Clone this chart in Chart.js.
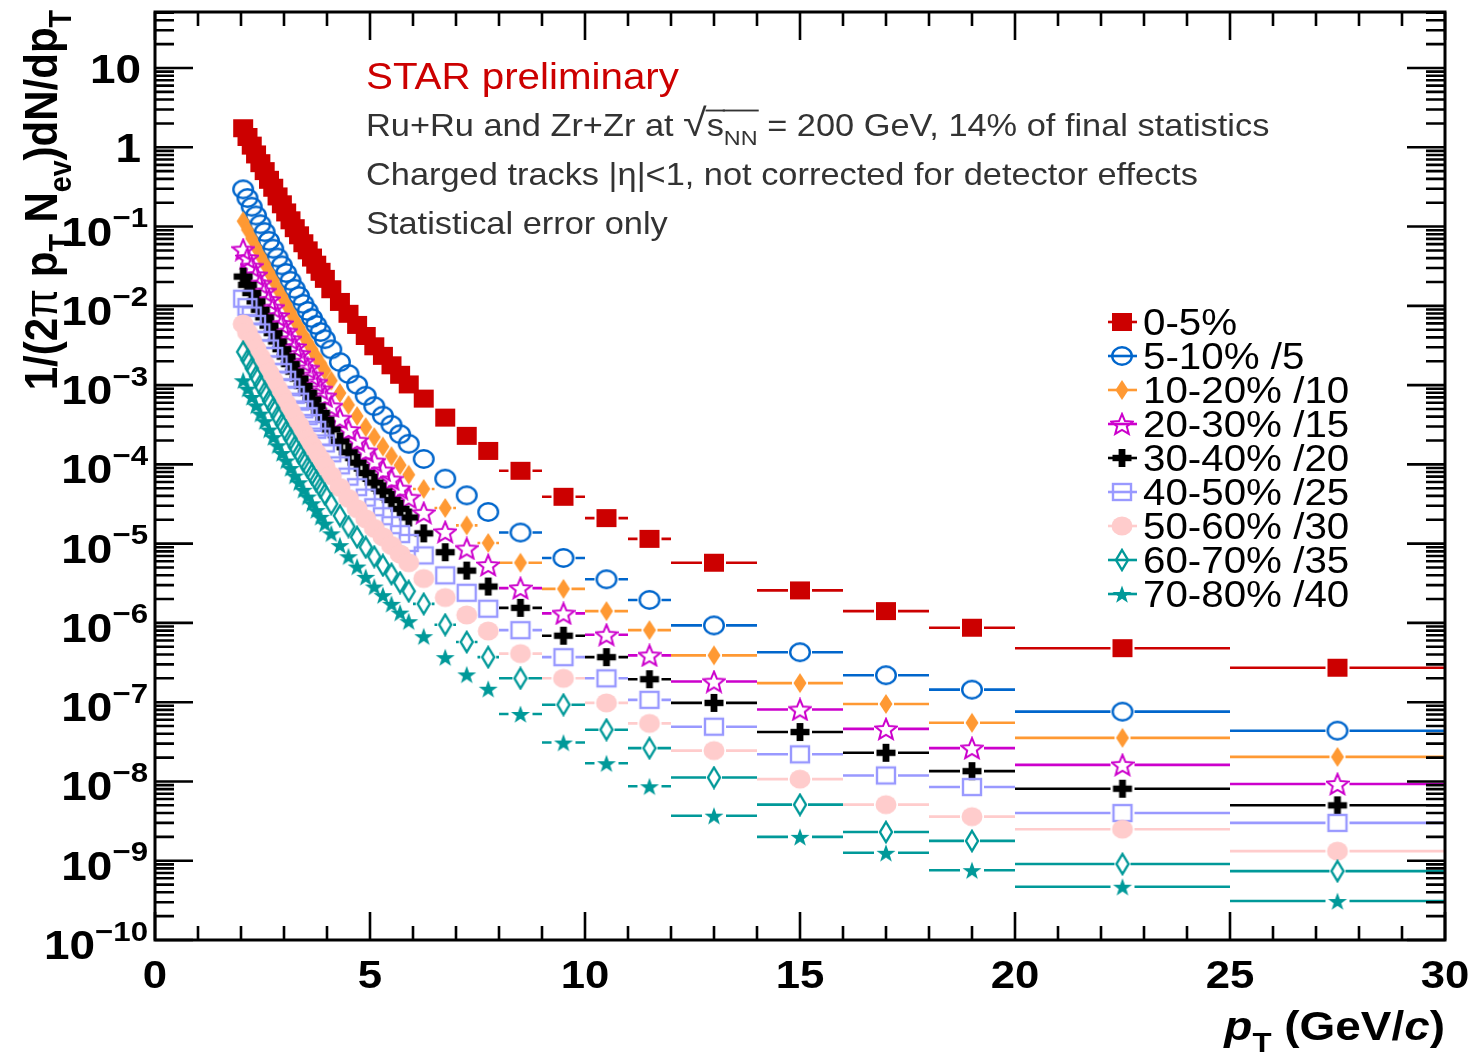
<!DOCTYPE html>
<html>
<head>
<meta charset="utf-8">
<script src="https://cdn.jsdelivr.net/npm/chart.js@4.4.0/dist/chart.umd.min.js"></script>
<style>
  html, body { margin: 0; padding: 0; background: #fff; }
</style>
</head>
<body>
<canvas id="spectra" width="1468" height="1062"></canvas>
<script>
// pT bin edges (GeV/c)
var binEdges = [2.0, 2.1, 2.2, 2.3, 2.4, 2.5, 2.6, 2.7, 2.8, 2.9, 3.0, 3.1, 3.2, 3.3, 3.4, 3.5, 3.6, 3.7, 3.8, 3.9, 4.0,
                4.2, 4.4, 4.6, 4.8, 5.0, 5.2, 5.4, 5.6, 5.8, 6.0,
                6.5, 7.0, 7.5, 8.0, 9.0, 10, 11, 12, 14, 16, 18, 20, 25, 30];

// yields per centrality class (already divided by the scale factor in the legend)
var cent0_5 = [1.74, 1.35, 1.05, 0.813, 0.631, 0.501, 0.389, 0.309, 0.240, 0.191,
               0.151, 0.120, 0.0955, 0.0776, 0.0617, 0.0501, 0.0407, 0.0331, 0.0269, 0.0219,
               0.0162, 0.0112, 7.94e-3, 5.75e-3, 4.17e-3, 3.09e-3, 2.34e-3, 1.78e-3, 1.35e-3, 1.02e-3,
               6.76e-4, 3.89e-4, 2.29e-4, 1.48e-4, 8.3e-5, 3.9e-5, 2.1e-5, 1.15e-5, 5.75e-6, 2.57e-6, 1.41e-6, 8.7e-7, 4.8e-7, 2.72e-7];
var cent5_10 = [0.295, 0.229, 0.178, 0.138, 0.107, 0.0851, 0.0661, 0.0525, 0.0407, 0.0324,
                0.0260, 0.0207, 0.0164, 0.0133, 0.0106, 8.61e-3, 7.00e-3, 5.75e-3, 4.68e-3, 3.80e-3,
                2.82e-3, 1.95e-3, 1.38e-3, 1.01e-3, 7.33e-4, 5.43e-4, 4.12e-4, 3.16e-4, 2.40e-4, 1.82e-4,
                1.17e-4, 6.6e-5, 4.07e-5, 2.51e-5, 1.38e-5, 6.6e-6, 3.55e-6, 1.95e-6, 9.3e-7, 4.27e-7, 2.19e-7, 1.44e-7, 7.6e-8, 4.37e-8];
var cent10_20 = [0.117, 0.0912, 0.0708, 0.0550, 0.0427, 0.0339, 0.0266, 0.0211, 0.0164, 0.0132,
                 0.0105, 8.32e-3, 6.61e-3, 5.37e-3, 4.27e-3, 3.47e-3, 2.82e-3, 2.29e-3, 1.88e-3, 1.53e-3,
                 1.14e-3, 7.94e-4, 5.62e-4, 4.07e-4, 2.95e-4, 2.21e-4, 1.68e-4, 1.27e-4, 9.77e-5, 7.41e-5,
                 4.9e-5, 2.82e-5, 1.70e-5, 1.02e-5, 5.75e-6, 2.69e-6, 1.41e-6, 8.1e-7, 3.9e-7, 1.74e-7, 9.5e-8, 5.5e-8, 3.55e-8, 2.04e-8];
var cent20_30 = [0.0513, 0.0401, 0.0313, 0.0244, 0.0191, 0.0152, 0.0119, 9.51e-3, 7.43e-3, 5.93e-3,
                 4.74e-3, 3.79e-3, 3.03e-3, 2.48e-3, 1.98e-3, 1.62e-3, 1.32e-3, 1.08e-3, 8.85e-4, 7.23e-4,
                 5.41e-4, 3.78e-4, 2.72e-4, 1.99e-4, 1.46e-4, 1.09e-4, 8.39e-5, 6.46e-5, 4.95e-5, 3.80e-5,
                 2.45e-5, 1.41e-5, 8.7e-6, 5.37e-6, 2.75e-6, 1.32e-6, 7.1e-7, 3.9e-7, 1.82e-7, 8.1e-8, 4.6e-8, 2.63e-8, 1.62e-8, 9.3e-9];
var cent30_40 = [0.0234, 0.0184, 0.0145, 0.0114, 8.91e-3, 7.16e-3, 5.62e-3, 4.52e-3, 3.55e-3, 2.84e-3,
                 2.29e-3, 1.84e-3, 1.48e-3, 1.21e-3, 9.75e-4, 8.02e-4, 6.59e-4, 5.42e-4, 4.46e-4, 3.66e-4,
                 2.76e-4, 1.95e-4, 1.42e-4, 1.05e-4, 7.78e-5, 5.89e-5, 4.57e-5, 3.55e-5, 2.75e-5, 2.14e-5,
                 1.35e-5, 7.8e-6, 4.57e-6, 2.88e-6, 1.55e-6, 6.9e-7, 3.7e-7, 1.95e-7, 9.8e-8, 4.2e-8, 2.3e-8, 1.35e-8, 8.1e-9, 5.0e-9];
var cent40_50 = [0.0123, 9.64e-3, 7.55e-3, 5.92e-3, 4.63e-3, 3.72e-3, 2.90e-3, 2.33e-3, 1.82e-3, 1.46e-3,
                 1.17e-3, 9.40e-4, 7.53e-4, 6.18e-4, 4.95e-4, 4.06e-4, 3.33e-4, 2.73e-4, 2.24e-4, 1.84e-4,
                 1.38e-4, 9.72e-5, 7.00e-5, 5.16e-5, 3.81e-5, 2.88e-5, 2.22e-5, 1.71e-5, 1.32e-5, 1.02e-5,
                 7.1e-6, 3.98e-6, 2.40e-6, 1.51e-6, 8.1e-7, 3.7e-7, 2.0e-7, 1.07e-7, 4.9e-8, 2.2e-8, 1.19e-8, 8.5e-9, 4.0e-9, 3.0e-9];
var cent50_60 = [5.89e-3, 4.63e-3, 3.64e-3, 2.86e-3, 2.25e-3, 1.82e-3, 1.43e-3, 1.15e-3, 9.04e-4, 7.26e-4,
                 5.85e-4, 4.71e-4, 3.79e-4, 3.12e-4, 2.51e-4, 2.07e-4, 1.71e-4, 1.40e-4, 1.16e-4, 9.53e-5,
                 7.19e-5, 5.11e-5, 3.72e-5, 2.76e-5, 2.06e-5, 1.56e-5, 1.22e-5, 9.48e-6, 7.40e-6, 5.75e-6,
                 3.63e-6, 2.09e-6, 1.26e-6, 7.9e-7, 4.1e-7, 2.0e-7, 9.8e-8, 5.4e-8, 2.45e-8, 1.07e-8, 5.1e-9, 3.6e-9, 2.5e-9, 1.32e-9];
var cent60_70 = [2.63e-3, 2.07e-3, 1.63e-3, 1.28e-3, 1.00e-3, 8.07e-4, 6.35e-4, 5.11e-4, 4.02e-4, 3.23e-4,
                 2.60e-4, 2.09e-4, 1.68e-4, 1.38e-4, 1.11e-4, 9.16e-5, 7.53e-5, 6.21e-5, 5.11e-5, 4.21e-5,
                 3.18e-5, 2.25e-5, 1.64e-5, 1.21e-5, 9.02e-6, 6.85e-6, 5.33e-6, 4.15e-6, 3.23e-6, 2.51e-6,
                 1.74e-6, 9.5e-7, 5.75e-7, 3.7e-7, 2.0e-7, 9.3e-8, 4.5e-8, 2.63e-8, 1.12e-8, 5.1e-9, 2.3e-9, 1.78e-9, 9.1e-10, 7.4e-10];
var cent70_80 = [1.15e-3, 9.02e-4, 7.08e-4, 5.56e-4, 4.37e-4, 3.51e-4, 2.75e-4, 2.21e-4, 1.74e-4, 1.39e-4,
                 1.12e-4, 8.99e-5, 7.23e-5, 5.94e-5, 4.78e-5, 3.93e-5, 3.23e-5, 2.65e-5, 2.18e-5, 1.79e-5,
                 1.35e-5, 9.57e-6, 6.93e-6, 5.14e-6, 3.81e-6, 2.88e-6, 2.24e-6, 1.74e-6, 1.35e-6, 1.05e-6,
                 6.8e-7, 3.7e-7, 2.24e-7, 1.48e-7, 7.1e-8, 3.1e-8, 1.7e-8, 8.7e-9, 3.7e-9, 2.0e-9, 1.26e-9, 7.6e-10, 4.7e-10, 3.1e-10];

var seriesLabels = ['0-5%', '5-10% /5', '10-20% /10', '20-30% /15', '30-40% /20', '40-50% /25', '50-60% /30', '60-70% /35', '70-80% /40'];
var seriesValues = [cent0_5, cent5_10, cent10_20, cent20_30, cent30_40, cent40_50, cent50_60, cent60_70, cent70_80];
var seriesColors = ['#cc0000', '#0066cc', '#ff9933', '#cc00cc', '#000000', '#9999ff', '#ffcccc', '#009999', '#009999'];
var seriesMarkers = ['square', 'openCircle', 'diamond', 'openStar', 'plus', 'openSquare', 'dot', 'openDiamond', 'star'];

var xTickValues = [0, 5, 10, 15, 20, 25, 30];
var yTickExponents = [-10, -9, -8, -7, -6, -5, -4, -3, -2, -1, 0, 1];

var FONT = '"Liberation Sans", Arial, Helvetica, sans-serif';
var SX = 1.12; // the reference is a bit wider than tall

function starPath(g, cx, cy, R, r) {
    g.beginPath();
    for (var k = 0; k < 10; k++) {
        var a = -Math.PI / 2 + k * Math.PI / 5;
        var rad = (k % 2 === 0) ? R : r;
        var px = cx + Math.cos(a) * rad * 1.05, py = cy + Math.sin(a) * rad;
        if (k === 0) g.moveTo(px, py); else g.lineTo(px, py);
    }
    g.closePath();
}

// marker images, used as pointStyle
function markerCanvas(kind, color) {
    var c = document.createElement('canvas');
    var w = 24, h = 24;
    if (kind === 'diamond' || kind === 'openDiamond') { w = 16; h = 24; }
    c.width = w; c.height = h;
    var g = c.getContext('2d');
    g.fillStyle = color; g.strokeStyle = color; g.lineWidth = 2.4;
    var cx = w / 2, cy = h / 2;
    if (kind === 'square') {
        g.fillRect(cx - 10, cy - 9, 20, 18);
    } else if (kind === 'openSquare') {
        g.strokeRect(cx - 9, cy - 8, 18, 16);
    } else if (kind === 'openCircle') {
        g.beginPath(); g.ellipse(cx, cy, 9.8, 8.8, 0, 0, Math.PI * 2); g.stroke();
    } else if (kind === 'dot') {
        g.beginPath(); g.ellipse(cx, cy, 10.5, 9.5, 0, 0, Math.PI * 2); g.fill();
    } else if (kind === 'diamond') {
        g.beginPath(); g.moveTo(cx, cy - 10); g.lineTo(cx + 6.5, cy); g.lineTo(cx, cy + 10); g.lineTo(cx - 6.5, cy); g.closePath(); g.fill();
    } else if (kind === 'openDiamond') {
        g.beginPath(); g.moveTo(cx, cy - 10); g.lineTo(cx + 6, cy); g.lineTo(cx, cy + 10); g.lineTo(cx - 6, cy); g.closePath(); g.stroke();
    } else if (kind === 'plus') {
        g.fillRect(cx - 9.5, cy - 3.2, 19, 6.4);
        g.fillRect(cx - 3.4, cy - 9, 6.8, 18);
    } else if (kind === 'openStar') {
        g.lineWidth = 2;
        starPath(g, cx, cy + 1, 11, 4.8); g.stroke();
    } else if (kind === 'star') {
        starPath(g, cx, cy + 1, 9.5, 3.8); g.fill();
    }
    return c;
}

var markerImages = seriesMarkers.map(function(k, i) { return markerCanvas(k, seriesColors[i]); });

// draw text pieces: {t, sub, sup, it, over, fam, scale, thin}
function richText(g, parts, x, y, o) {
    var sx = o.sx || 1;
    function fontOf(p) {
        var s = o.size * (p.sub || p.sup ? 0.68 : 1) * (p.scale || 1);
        return (p.it ? 'italic ' : '') + (o.bold && !p.thin ? 'bold ' : '') + s + 'px ' + (p.fam || FONT);
    }
    var widths = parts.map(function(p) { g.font = fontOf(p); return g.measureText(p.t).width; });
    var total = widths.reduce(function(a, b) { return a + b; }, 0);
    var start = o.align === 'right' ? -total : (o.align === 'center' ? -total / 2 : 0);
    g.save();
    g.translate(x, y);
    if (o.rotate) g.rotate(o.rotate);
    g.scale(sx, o.sy || 1);
    g.fillStyle = o.color || '#000';
    g.textAlign = 'left';
    g.textBaseline = 'alphabetic';
    var cx = start;
    parts.forEach(function(p, i) {
        g.font = fontOf(p);
        var dy = p.sub ? o.size * 0.3 : (p.sup ? -o.size * 0.45 : 0);
        g.fillText(p.t, cx, dy);
        if (p.over) {
            g.fillRect(cx - 1, -o.size * 0.86, widths[i] + 2, Math.max(1.5, o.size * 0.06));
        }
        cx += widths[i];
    });
    g.restore();
}

var rootStyle = {
    id: 'rootStyle',
    beforeDatasetsDraw: function(chart) {
        // horizontal bars = bin widths
        var g = chart.ctx, xs = chart.scales.x, ys = chart.scales.y, area = chart.chartArea;
        g.save();
        g.beginPath(); g.rect(area.left, area.top, area.right - area.left, area.bottom - area.top); g.clip();
        g.lineWidth = 2.6;
        seriesValues.forEach(function(vals, i) {
            g.strokeStyle = seriesColors[i];
            var gap = markerImages[i].width / 2;
            vals.forEach(function(v, j) {
                var x0 = xs.getPixelForValue(binEdges[j]);
                var x1 = xs.getPixelForValue(binEdges[j + 1]);
                var xc = xs.getPixelForValue((binEdges[j] + binEdges[j + 1]) / 2);
                var y = ys.getPixelForValue(v);
                g.beginPath();
                if (xc - gap > x0) { g.moveTo(x0, y); g.lineTo(xc - gap, y); }
                if (xc + gap < x1) { g.moveTo(xc + gap, y); g.lineTo(x1, y); }
                g.stroke();
            });
        });
        g.restore();
    },
    afterDraw: function(chart) {
        var g = chart.ctx, xs = chart.scales.x, ys = chart.scales.y, a = chart.chartArea;
        g.save();
        // frame
        g.strokeStyle = '#000';
        g.lineWidth = 3;
        g.strokeRect(a.left, a.top, a.right - a.left, a.bottom - a.top);
        // ticks, inside on all four sides
        g.lineWidth = 2.6;
        g.beginPath();
        for (var v = 0; v <= 30; v++) {
            var px = xs.getPixelForValue(v);
            var len = (v % 5 === 0) ? 28 : 14;
            g.moveTo(px, a.bottom); g.lineTo(px, a.bottom - len);
            g.moveTo(px, a.top); g.lineTo(px, a.top + len);
        }
        for (var e = -10; e <= 1; e++) {
            for (var k = 1; k <= 9; k++) {
                var val = k * Math.pow(10, e);
                if (val < ys.min || val > ys.max) continue;
                var py = ys.getPixelForValue(val);
                var l = (k === 1) ? 38 : 19;
                g.moveTo(a.left, py); g.lineTo(a.left + l, py);
                g.moveTo(a.right, py); g.lineTo(a.right - l, py);
            }
        }
        g.stroke();

        // x tick labels
        xTickValues.forEach(function(t) {
            richText(g, [{ t: String(t) }], xs.getPixelForValue(t), 988, { size: 39, bold: true, align: 'center', sx: SX });
        });
        // y tick labels
        yTickExponents.forEach(function(ex) {
            var py = ys.getPixelForValue(Math.pow(10, ex));
            if (ex === 0) {
                richText(g, [{ t: '1' }], 141, py + 15, { size: 41, bold: true, align: 'right', sx: SX });
            } else if (ex === 1) {
                richText(g, [{ t: '10' }], 141, py + 15, { size: 41, bold: true, align: 'right', sx: SX });
            } else {
                richText(g, [{ t: '10' }, { t: '\u2212' + Math.abs(ex), sup: true }], 148, py + 19, { size: 41, bold: true, align: 'right', sx: SX });
            }
        });

        // axis titles
        richText(g, [{ t: 'p', it: true }, { t: 'T', sub: true }, { t: ' (GeV/' }, { t: 'c', it: true }, { t: ')' }],
                 1445, 1040, { size: 41, bold: true, align: 'right', sx: SX });
        richText(g, [{ t: '1/(2' }, { t: '\u03c0', thin: true }, { t: ' p' }, { t: 'T', sub: true }, { t: ' N' },
                     { t: 'ev', sub: true }, { t: ')dN/dp' }, { t: 'T', sub: true }],
                 57, 10, { size: 42, bold: true, align: 'right', rotate: -Math.PI / 2, sy: 1.1 });

        // header texts
        richText(g, [{ t: 'STAR preliminary' }], 366, 89, { size: 36, color: '#cc0000', sx: SX });
        richText(g, [{ t: 'Ru+Ru and Zr+Zr at ' }, { t: '\u221a', scale: 1.25 }, { t: 's', over: true }, { t: 'NN', sub: true, over: true },
                     { t: ' = 200 GeV, 14% of final statistics' }],
                 366, 136, { size: 30.7, color: '#333333', sx: SX });
        richText(g, [{ t: 'Charged tracks |\u03b7|<1, not corrected for detector effects' }], 366, 185, { size: 30.7, color: '#333333', sx: SX });
        richText(g, [{ t: 'Statistical error only' }], 366, 234, { size: 30.7, color: '#333333', sx: SX });

        // legend
        seriesLabels.forEach(function(lab, i) {
            var cy = 322 + 34 * i;
            g.strokeStyle = seriesColors[i];
            g.lineWidth = 2.6;
            g.beginPath(); g.moveTo(1108, cy); g.lineTo(1137, cy); g.stroke();
            var im = markerImages[i];
            g.drawImage(im, 1122 - im.width / 2, cy - im.height / 2);
            richText(g, [{ t: lab }], 1143, cy + 13, { size: 36, sx: SX });
        });
        g.restore();
    }
};

var datasets = seriesValues.map(function(vals, i) {
    return {
        label: seriesLabels[i],
        data: vals.map(function(v, j) { return { x: (binEdges[j] + binEdges[j + 1]) / 2, y: v }; }),
        pointStyle: markerImages[i],
        pointRadius: 10,
        showLine: false,
        order: 9 - i
    };
});

new Chart(document.getElementById('spectra').getContext('2d'), {
    type: 'scatter',
    data: { datasets: datasets },
    options: {
        responsive: false,
        animation: false,
        devicePixelRatio: 1,
        layout: { padding: { left: 155, right: 23, top: 12, bottom: 122 } },
        scales: {
            x: { type: 'linear', min: 0, max: 30, display: false },
            y: { type: 'logarithmic', min: 1e-10, max: 50.9, display: false }
        },
        plugins: { legend: { display: false }, tooltip: { enabled: false } }
    },
    plugins: [rootStyle]
});
</script>
</body>
</html>
